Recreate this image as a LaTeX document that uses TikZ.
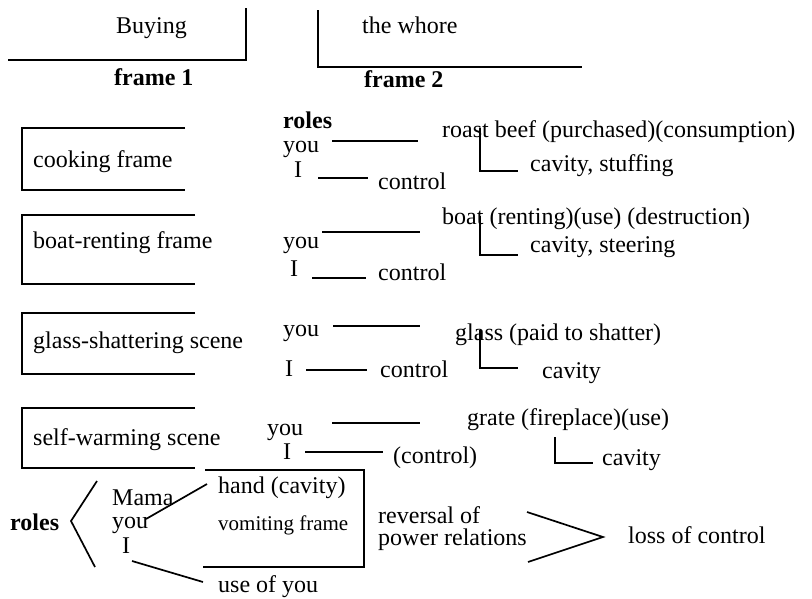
\documentclass[tikz,border=0pt]{standalone}
\usepackage{fontspec}
\setmainfont{Liberation Serif}
\begin{document}
\begin{tikzpicture}[x=1pt,y=-1pt,
  lbl/.style={anchor=base west,inner sep=0pt,font=\fontsize{24}{28}\selectfont},
  blbl/.style={anchor=base west,inner sep=0pt,font=\fontsize{24}{28}\selectfont\bfseries},
  tight/.style={text height=14pt,text depth=2pt},
  ln/.style={line width=1.7pt},
  frm/.style={line width=2.2pt}]
\useasboundingbox (0,0) rectangle (812,598);
% top frames
\node[lbl] (buying) at (116,33) {Buying};
\node[blbl] (f1) at (114,85) {frame 1};
\node[lbl] (whore) at (362,33) {the whore};
\node[blbl] (f2) at (364,87) {frame 2};
\draw[frm] (8,60) -- (246,60) -- (246,8);
\draw[frm] (318,10) -- (318,67) -- (582,67);
% left boxes
\draw[frm] (185,128) -- (22,128) -- (22,190) -- (185,190);
\node[lbl] (cook) at (33,167) {cooking frame};
\draw[frm] (195,215) -- (22,215) -- (22,284) -- (195,284);
\node[lbl] (boatf) at (33,248) {boat-renting frame};
\draw[frm] (195,313) -- (22,313) -- (22,374) -- (195,374);
\node[lbl] (glassf) at (33,348) {glass-shattering scene};
\draw[frm] (195,408) -- (22,408) -- (22,468) -- (195,468);
\node[lbl] (selff) at (33,445) {self-warming scene};
% row 1
\node[blbl,tight] (roles1) at (283,128) {roles};
\node[lbl,tight] (you1) at (283,152) {you};
\node[lbl,tight] (i1) at (294,177) {I};
\node[lbl] (ctl1) at (378,189) {control};
\node[lbl] (beef) at (442,137) {roast beef (purchased)(consumption)};
\node[lbl] (stuff) at (530,171) {cavity, stuffing};
\draw[ln] (332,141) -- (418,141);
\draw[ln] (318,178) -- (368,178);
\draw[ln] (480,128) -- (480,171) -- (518,171);
% row 2
\node[lbl] (you2) at (283,248) {you};
\node[lbl] (i2) at (290,276) {I};
\node[lbl] (ctl2) at (378,280) {control};
\node[lbl] (boat) at (442,224) {boat (renting)(use) (destruction)};
\node[lbl] (steer) at (530,252) {cavity, steering};
\draw[ln] (322,232) -- (420,232);
\draw[ln] (312,278) -- (366,278);
\draw[ln] (480,216) -- (480,255) -- (518,255);
% row 3
\node[lbl] (you3) at (283,336) {you};
\node[lbl] (i3) at (285,376) {I};
\node[lbl] (ctl3) at (380,377) {control};
\node[lbl] (glass) at (455,340) {glass (paid to shatter)};
\node[lbl] (cav3) at (542,378) {cavity};
\draw[ln] (333,326) -- (420,326);
\draw[ln] (306,370) -- (367,370);
\draw[ln] (480,330) -- (480,368) -- (518,368);
% row 4
\node[lbl] (you4) at (267,435) {you};
\node[lbl] (i4) at (283,459) {I};
\node[lbl] (ctl4) at (393,463) {(control)};
\node[lbl] (grate) at (467,425) {grate (fireplace)(use)};
\node[lbl] (cav4) at (602,465) {cavity};
\draw[ln] (332,423) -- (420,423);
\draw[ln] (305,452) -- (383,452);
\draw[ln] (555,437) -- (555,463) -- (593,463);
% bottom
\node[blbl] (roles2) at (10,530) {roles};
\draw[ln] (97,481) -- (71,521) -- (95,567);
\node[lbl,tight] (mama) at (112,505) {Mama};
\node[lbl,tight] (you5) at (112,528) {you};
\node[lbl,tight] (i5) at (122,553) {I};
\node[lbl] (hand) at (218,493) {hand (cavity)};
\node[lbl,font=\fontsize{21}{25}\selectfont] (vomit) at (218,530) {vomiting frame};
\node[lbl] (use) at (218,592) {use of you};
\draw[frm] (205,470) -- (364,470) -- (364,567) -- (203,567);
\draw[ln] (146,519) -- (207,484);
\draw[ln] (132,561) -- (203,582);
\node[lbl] (rev1) at (378,523) {reversal of};
\node[lbl] (rev2) at (378,545) {power relations};
\draw[ln] (527,512) -- (603,537) -- (528,562);
\node[lbl] (loss) at (628,543) {loss of control};
\end{tikzpicture}
\end{document}
